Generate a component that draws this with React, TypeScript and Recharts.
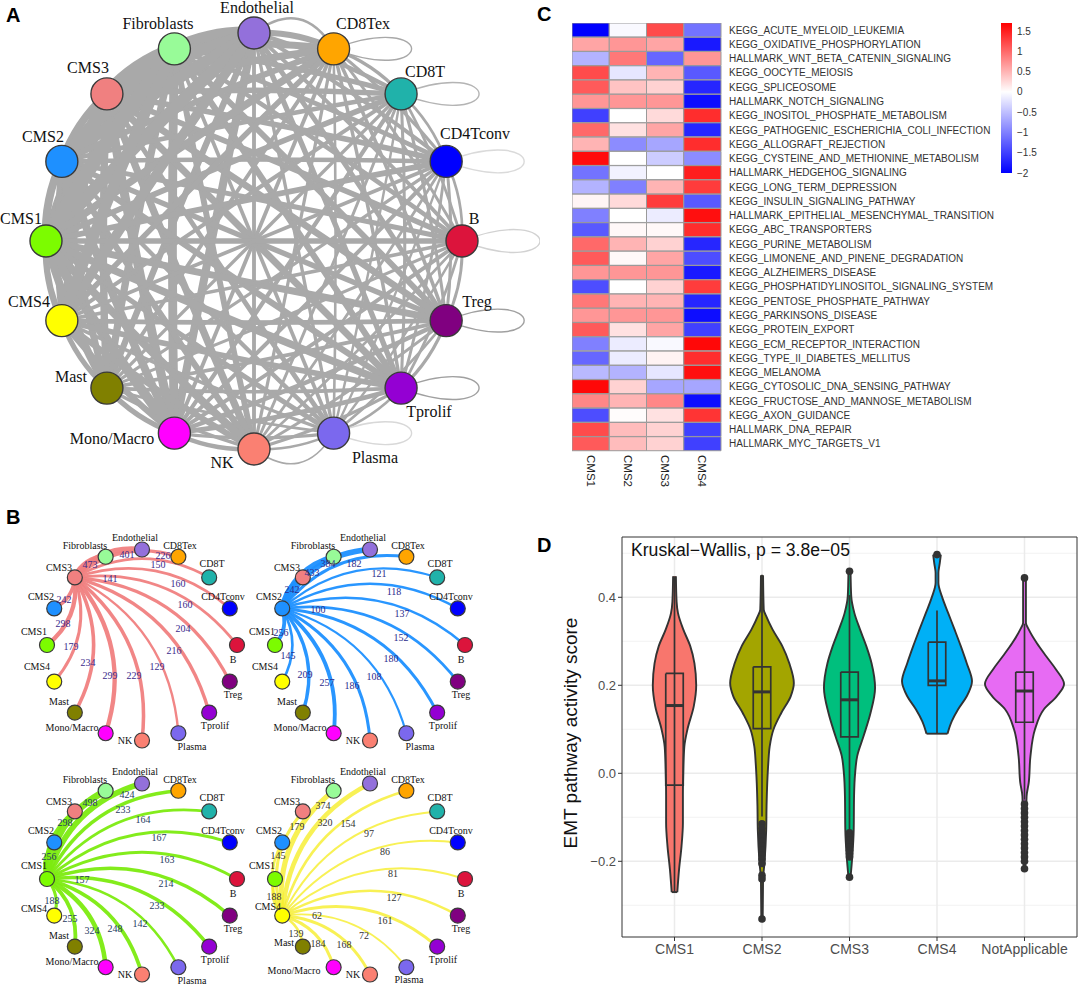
import React from 'react';
import {
  Area, Bar, BarChart, CartesianGrid, Cell, ComposedChart, ReferenceArea, Scatter, ScatterChart, XAxis, YAxis,
} from 'recharts';

// ---- cell types, clockwise from the top of the circle
const nodeNames = ['Endothelial', 'CD8Tex', 'CD8T', 'CD4Tconv', 'B', 'Treg', 'Tprolif', 'Plasma', 'NK', 'Mono/Macro', 'Mast', 'CMS4', 'CMS1', 'CMS2', 'CMS3', 'Fibroblasts'];
const nodeColors = ['#9370DB', '#FFA500', '#20B2AA', '#0000FF', '#DC143C', '#800080', '#9400D3', '#7B68EE', '#FA8072', '#FF00FF', '#808000', '#FFFF00', '#7CFC00', '#1E90FF', '#F08080', '#98FB98'];

// interaction counts per CMS, in nodeNames order (own index = self interaction)
const cms3Row = [401, 226, 150, 160, 160, 204, 216, 129, 229, 299, 234, 179, 298, 242, 141, 473];
const cms2Row = [384, 182, 121, 118, 137, 152, 180, 108, 186, 257, 209, 145, 256, 100, 242, 433];
const cms1Row = [424, 233, 164, 167, 163, 214, 233, 142, 248, 324, 255, 188, 157, 256, 298, 498];
const cms4Row = [320, 154, 97, 86, 81, 127, 161, 72, 168, 184, 139, 62, 188, 145, 179, 374];

// the rest of panel A, estimated from line widths (upper triangle)
const stromalOrder = [0, 1, 2, 3, 4, 5, 6, 7, 8, 9, 10, 15];
const stromalRows = [
  [180, 110, 95, 90, 130, 150, 70, 90, 260, 190, 430],
  [70, 60, 55, 80, 75, 40, 65, 90, 90, 210],
  [45, 48, 60, 58, 35, 55, 105, 72, 140],
  [42, 55, 50, 30, 48, 95, 65, 125],
  [52, 48, 34, 44, 92, 60, 115],
  [62, 38, 60, 115, 85, 170],
  [40, 68, 125, 82, 185],
  [32, 62, 44, 85],
  [110, 75, 175],
  [150, 290],
  [230],
];
const loopNodes = ['CD8Tex', 'CD8T', 'CD4Tconv', 'B', 'Treg', 'Tprolif', 'Plasma'];
const loopColors = ['#a8a8a8', '#b4b4b4', '#dadada', '#d2d2d2', '#a0a0a0', '#a0a0a0', '#d8d8d8'];

// ---- heatmap
const pathways = [
  'KEGG_ACUTE_MYELOID_LEUKEMIA', 'KEGG_OXIDATIVE_PHOSPHORYLATION', 'HALLMARK_WNT_BETA_CATENIN_SIGNALING', 'KEGG_OOCYTE_MEIOSIS', 'KEGG_SPLICEOSOME',
  'HALLMARK_NOTCH_SIGNALING', 'KEGG_INOSITOL_PHOSPHATE_METABOLISM', 'KEGG_PATHOGENIC_ESCHERICHIA_COLI_INFECTION', 'KEGG_ALLOGRAFT_REJECTION', 'KEGG_CYSTEINE_AND_METHIONINE_METABOLISM',
  'HALLMARK_HEDGEHOG_SIGNALING', 'KEGG_LONG_TERM_DEPRESSION', 'KEGG_INSULIN_SIGNALING_PATHWAY', 'HALLMARK_EPITHELIAL_MESENCHYMAL_TRANSITION', 'KEGG_ABC_TRANSPORTERS',
  'KEGG_PURINE_METABOLISM', 'KEGG_LIMONENE_AND_PINENE_DEGRADATION', 'KEGG_ALZHEIMERS_DISEASE', 'KEGG_PHOSPHATIDYLINOSITOL_SIGNALING_SYSTEM', 'KEGG_PENTOSE_PHOSPHATE_PATHWAY',
  'KEGG_PARKINSONS_DISEASE', 'KEGG_PROTEIN_EXPORT', 'KEGG_ECM_RECEPTOR_INTERACTION', 'KEGG_TYPE_II_DIABETES_MELLITUS', 'KEGG_MELANOMA',
  'KEGG_CYTOSOLIC_DNA_SENSING_PATHWAY', 'KEGG_FRUCTOSE_AND_MANNOSE_METABOLISM', 'KEGG_AXON_GUIDANCE', 'HALLMARK_DNA_REPAIR', 'HALLMARK_MYC_TARGETS_V1',
];
const heatColumns = ['CMS1', 'CMS2', 'CMS3', 'CMS4'];
const heatCms1 = [-2, 0.6, -0.6, 1.2, 1.1, 0.7, -1.5, 1.0, 0.5, 1.62, -1.1, -0.6, 0.07, -1.0, -1.3, 1.0, 1.1, 0.7, -1.4, 0.9, 0.7, 1.1, -1.0, -1.2, -0.55, 1.65, 0.8, -1.4, 1.2, 1.1];
const heatCms2 = [-0.05, 0.7, 0.9, -0.2, 0.4, 0.7, 0, 0.2, -0.9, 0, -0.1, -1.0, 0.25, 0, 0.05, 0.5, 0.05, 0.7, 0, 0.5, 0.7, 0.2, -0.15, -0.15, -0.6, 0.3, 0.5, 0.02, 0.45, 0.45];
const heatCms3 = [1.2, 0.6, -1.2, 0.5, 0.3, 0.7, 0.25, 0.6, -0.7, -0.4, 0, 0.5, 1.3, -0.15, 0.05, 0.3, 0.6, 0.7, 0.3, 0.5, 0.7, 0.6, -0.05, 0.08, -0.2, -0.7, 0.8, 0.2, 0.3, 0.3];
const heatCms4 = [-1.1, -1.8, 0.7, -1.3, -1.7, -1.9, 1.4, -1.7, 1.4, -0.9, 1.5, 1.3, -1.3, 1.6, 1.4, -1.7, -1.4, -1.8, 1.3, -1.7, -1.9, -1.5, 1.65, 1.4, 1.6, -0.7, -1.9, 1.35, -1.5, -1.5];
const colorbarTicks = [1.5, 1, 0.5, 0, -0.5, -1, -1.5, -2];

// ---- violins: score (descending) and half width
const violinCategories = ['CMS1', 'CMS2', 'CMS3', 'CMS4', 'NotApplicable'];
const violinColors = ['#F8766D', '#A3A500', '#00BF7D', '#00B0F6', '#E76BF3'];
const cms1Scores = [0.448, 0.39, 0.364, 0.327, 0.289, 0.25, 0.2, 0.152, 0.1, 0.06, 0, -0.05, -0.113, -0.166, -0.219, -0.27];
const cms1Widths = [4, 6, 10, 25, 45, 57, 62, 55, 37, 28, 25, 24, 24, 20, 13, 8];
const cms2Scores = [0.45, 0.372, 0.357, 0.327, 0.289, 0.25, 0.205, 0.175, 0.137, 0.1, 0.061, 0.023, -0.022, -0.075, -0.128, -0.204, -0.242, -0.331];
const cms2Widths = [3, 5, 12, 30, 58, 78, 91, 82, 55, 33, 22, 18, 15, 13, 12, 7, 3, 2];
const cms3Scores = [0.459, 0.402, 0.364, 0.327, 0.289, 0.25, 0.194, 0.137, 0.084, 0.039, 0, -0.052, -0.128, -0.189, -0.236];
const cms3Widths = [3, 5, 14, 30, 48, 63, 73, 60, 40, 22, 16, 13, 12, 8, 3];
const cms4Scores = [0.497, 0.478, 0.455, 0.433, 0.402, 0.364, 0.327, 0.289, 0.25, 0.209, 0.175, 0.145, 0.118, 0.09];
const cms4Widths = [11, 8, 4, 4, 14, 32, 50, 68, 85, 100, 85, 60, 42, 30];
const otherScores = [0.444, 0.342, 0.327, 0.296, 0.266, 0.236, 0.203, 0.175, 0.145, 0.1, 0.039, -0.022, -0.052, -0.217];
const otherWidths = [4, 4, 12, 35, 62, 90, 113, 92, 55, 30, 17, 12, 6, 2];

const whiskerHigh = [0.448, 0.451, 0.405, 0.37, 0.34];
const boxHigh = [0.227, 0.242, 0.23, 0.298, 0.23];
const boxMedian = [0.154, 0.185, 0.167, 0.21, 0.187];
const boxLow = [-0.027, 0.1015, 0.083, 0.2, 0.116];
const whiskerLow = [-0.27, -0.098, -0.128, 0.09, -0.06];
const cms1Outliers: number[] = [];
const cms2Outliers = [-0.115, -0.125, -0.135, -0.145, -0.155, -0.165, -0.175, -0.185, -0.195, -0.205, -0.232, -0.24, -0.331];
const cms3Outliers = [0.459, -0.135, -0.143, -0.151, -0.159, -0.167, -0.175, -0.183, -0.19, -0.236];
const cms4Outliers = [0.497];
const otherOutliers = [0.444, -0.07, -0.08, -0.09, -0.1, -0.11, -0.12, -0.13, -0.14, -0.15, -0.16, -0.17, -0.18, -0.19, -0.2, -0.217];

// ---- layout of the circle plots, px from the circle centre
const bigLabelOffsets = [[3, -234], [109, -218], [171, -170], [221, -108], [220, -23], [223, 60], [175, 170], [121, 216], [-32, 221], [-142, 197], [-183, 135], [-225, 60], [-233, -23], [-211, -105], [-166, -174], [-96, -218]];
const smallLabelOffsets = [[-7, -108], [38, -100], [70, -82], [81, -49], [91, 14], [91, 49], [73, 80], [50, 101], [-17, 95], [-70, 82], [-83, 56], [-105, 21], [-108, -14], [-101, -49], [-83, -78], [-57, -100]];

const smallPanels = [
  { cx: 142, cy: 645, source: 14, row: cms3Row, color: '#F08080', opacity: 0.95, text: '#3b2a8c', tweak: {} as any,
    at: [[127, 554], [163, 555], [158, 564], [178, 583], [185, 604], [183, 628], [174, 650], [157, 666], [134, 675], [110, 675], [88, 662], [71, 646], [63, 623], [64, 599], [110, 578], [90, 564]] },
  { cx: 370, cy: 645, source: 13, row: cms2Row, color: '#1E90FF', opacity: 0.95, text: '#2a2a8c', tweak: {} as any,
    at: [[328, 563], [354, 563], [379, 573], [394, 591], [402, 613], [401, 637], [391, 658], [374, 676], [352, 685], [327, 682], [305, 674], [288, 655], [281, 632], [318, 609], [292, 589], [312, 572]] },
  { cx: 142, cy: 878.5, source: 12, row: cms1Row, color: '#7CEB10', opacity: 0.95, text: '#1f3a5f', tweak: { 11: [-3, 8] } as any,
    at: [[127, 794], [123, 809], [143, 819], [159, 837], [167, 859], [166, 883], [157, 905], [140, 923], [115, 928], [92, 930], [70, 918], [52, 900], [82, 879], [49, 856], [65, 822], [90, 802]] },
  { cx: 370, cy: 878.5, source: 11, row: cms4Row, color: '#F6EE2A', opacity: 0.8, text: '#333333', tweak: { 7: [-11, -1], 9: [-6, 9], 10: [-3, 7], 11: [3, 6] } as any,
    at: [[325, 822], [348, 823], [369, 833], [385, 851], [393, 873], [394, 897], [385, 920], [364, 935], [344, 944], [318, 943], [296, 933], [317, 915], [274, 896], [278, 855], [297, 826], [323, 805]] },
];

const SERIF = '"Liberation Serif", "Times New Roman", serif';
const SANS = '"Liberation Sans", Arial, sans-serif';

const circlePoint = (i: number) => {
  const a = (i / 16) * 2 * Math.PI;
  return { x: Math.sin(a), y: -Math.cos(a) };
};

// draws what the scatter hands over: 3 points = quadratic, 4 points = cubic
const bezierLine = (stroke: string, width: number, opacity = 1) => (props: any) => {
  const p = props.points;
  const d = p.length === 3
    ? `M${p[0].x},${p[0].y}Q${p[1].x},${p[1].y} ${p[2].x},${p[2].y}`
    : `M${p[0].x},${p[0].y}C${p[1].x},${p[1].y} ${p[2].x},${p[2].y} ${p[3].x},${p[3].y}`;
  return <path d={d} fill="none" stroke={stroke} strokeWidth={width} strokeOpacity={opacity} />;
};
const noMark = () => <g />;

const nodeShape = (r: number) => (props: any) => (
  <circle cx={props.cx} cy={props.cy} r={r} fill={props.payload.fill} stroke="#3a3a3a" strokeWidth={r > 10 ? 1.4 : 1.2} />
);
const textShape = (size: number, color: string) => (props: any) => (
  <text x={props.cx} y={props.cy} fontSize={size} fontFamily={SERIF} fill={color} textAnchor="middle" dominantBaseline="central">{props.payload.label}</text>
);

type Edge = { points: { x: number; y: number }[]; color: string; width: number; opacity?: number };

function CircleChart({ left, top, width, height, domainX, domainY, edges, labels, values, radius, fontSize, valueColor }: any) {
  const nodes = nodeNames.map((name, i) => ({ ...circlePoint(i), name, fill: nodeColors[i] }));
  return (
    <div style={{ position: 'absolute', left, top }}>
      <ScatterChart width={width} height={height} margin={{ top: 0, right: 0, bottom: 0, left: 0 }}>
        <XAxis type="number" dataKey="x" hide domain={domainX} allowDataOverflow />
        <YAxis type="number" dataKey="y" hide reversed domain={domainY} allowDataOverflow />
        {edges.map((e: Edge, i: number) => (
          <Scatter key={`edge-${i}`} data={e.points} shape={noMark} line={bezierLine(e.color, e.width, e.opacity ?? 1)} isAnimationActive={false} />
        ))}
        <Scatter data={nodes} shape={nodeShape(radius)} isAnimationActive={false} />
        <Scatter data={labels} shape={textShape(fontSize, '#111')} isAnimationActive={false} />
        {values && <Scatter data={values} shape={textShape(fontSize, valueColor)} isAnimationActive={false} />}
      </ScatterChart>
    </div>
  );
}

// panel A ------------------------------------------------------------
const BIG_R = 208;
const outwardEdge = (a: number, b: number, k: number) => {
  const p = circlePoint(a);
  const q = circlePoint(b);
  const mx = (p.x + q.x) / 2;
  const my = (p.y + q.y) / 2;
  return [p, { x: mx * (1 + k), y: my * (1 + k) }, q];
};
const allLinks: [number, number, number][] = [];
stromalRows.forEach((row, r) => row.forEach((w, c) => allLinks.push([stromalOrder[r], stromalOrder[r + c + 1], w])));
[[14, cms3Row], [13, cms2Row], [12, cms1Row], [11, cms4Row]].forEach(([src, row]: any, k) => {
  row.forEach((w: number, i: number) => {
    if (i === src) return;
    if ([14, 13, 12, 11].slice(0, k).includes(i)) return;
    allLinks.push([src, i, w]);
  });
});
const bigEdges: Edge[] = allLinks.map(([a, b, w]) => ({ points: outwardEdge(a, b, 0.05), color: '#A9A9A9', width: 1.6 + w / 40 }));
bigEdges.push({ points: outwardEdge(0, 1, 0.22), color: '#A9A9A9', width: 2.6 });
bigEdges.push({ points: outwardEdge(8, 7, 0.22), color: '#A9A9A9', width: 1.6 });
loopNodes.forEach((name, i) => {
  const n = circlePoint(nodeNames.indexOf(name));
  bigEdges.push({
    points: [n, { x: n.x + 0.5, y: n.y - 0.19 }, { x: n.x + 0.5, y: n.y + 0.19 }, n],
    color: loopColors[i],
    width: 1.4,
  });
});
const bigLabels = nodeNames.map((label, i) => ({ x: bigLabelOffsets[i][0] / BIG_R, y: bigLabelOffsets[i][1] / BIG_R, label }));

// panel B ------------------------------------------------------------
const smallRx = 95;
const smallRy = 95.5;
const smallHalf = 130;
const CURVE = 0.28;
const smallEdges = (source: number, row: number[], color: string, opacity: number): Edge[] => {
  const s = circlePoint(source);
  const edges: Edge[] = [];
  row.forEach((w, i) => {
    if (i === source) return;
    const t = circlePoint(i);
    const dx = t.x - s.x;
    const dy = t.y - s.y;
    edges.push({
      points: [s, { x: (s.x + t.x) / 2 + dy * CURVE, y: (s.y + t.y) / 2 - dx * CURVE }, t],
      color,
      width: 1 + w / 90,
      opacity,
    });
  });
  return edges;
};

// panel C ------------------------------------------------------------
const heatColor = (v: number) => {
  const t = Math.min(1, Math.abs(v) / (v >= 0 ? 1.7 : 2));
  const c = Math.round(255 * (1 - t));
  return v >= 0 ? `rgb(255,${c},${c})` : `rgb(${c},${c},255)`;
};
const heatRows = pathways.map((name) => ({ name }));
const heatValues = [heatCms1, heatCms2, heatCms3, heatCms4];
const HeatTick = (props: any) => (
  <text x={props.x} y={props.y - 4} transform={`rotate(90 ${props.x} ${props.y - 4})`} fontSize={11.5} fontFamily={SANS} fill="#222" dominantBaseline="central">
    {heatColumns[Math.floor(props.payload.value)]}
  </text>
);

function Heatmap() {
  return (
    <div style={{ position: 'absolute', left: 572, top: 23 }}>
      <BarChart layout="vertical" width={430} height={468} data={heatRows} barCategoryGap={0} margin={{ top: 0, right: 0, bottom: 0, left: 0 }}>
        <XAxis type="number" domain={[0, 4]} ticks={[0.5, 1.5, 2.5, 3.5]} height={40} axisLine={false} tickLine={false} tick={HeatTick} interval={0} />
        <YAxis type="category" dataKey="name" orientation="right" width={281} interval={0} axisLine={false} tickLine={false} tickSize={0} tickMargin={8} tick={{ fontSize: 10, fontFamily: SANS, fill: '#333', textAnchor: 'start' }} />
        {heatValues.map((vals, c) => (
          <Bar key={heatColumns[c]} dataKey={() => 1} stackId="heat" stroke="#9a9a9a" strokeWidth={1} isAnimationActive={false}>
            {vals.map((v, i) => <Cell key={pathways[i]} fill={heatColor(v)} />)}
          </Bar>
        ))}
      </BarChart>
    </div>
  );
}

function Colorbar() {
  return (
    <div style={{ position: 'absolute', left: 1001, top: 23 }}>
      <BarChart width={50} height={162} data={[{ name: 'scale', range: [-2, 1.7] }]} barCategoryGap={0} margin={{ top: 0, right: 0, bottom: 12, left: 0 }}>
        <defs>
          <linearGradient id="heatScale" x1="0" y1="0" x2="0" y2="1">
            <stop offset="0" stopColor="#FF0000" />
            <stop offset="0.459" stopColor="#FFFFFF" />
            <stop offset="1" stopColor="#0000FF" />
          </linearGradient>
        </defs>
        <XAxis dataKey="name" hide />
        <YAxis type="number" orientation="right" domain={[-2, 1.7]} ticks={colorbarTicks} interval={0} width={39} axisLine={false} tickLine={false} tickSize={0} tickMargin={5}
          tickFormatter={(v: number) => String(v).replace('-', '\u2212')} tick={{ fontSize: 10, fontFamily: SANS, fill: '#333', textAnchor: 'start' }} />
        <Bar dataKey="range" fill="url(#heatScale)" isAnimationActive={false} />
      </BarChart>
    </div>
  );
}

// panel D ------------------------------------------------------------
const WIDTH_UNIT = 250;
const violinSets = [
  { scores: cms1Scores, widths: cms1Widths, outliers: cms1Outliers },
  { scores: cms2Scores, widths: cms2Widths, outliers: cms2Outliers },
  { scores: cms3Scores, widths: cms3Widths, outliers: cms3Outliers },
  { scores: cms4Scores, widths: cms4Widths, outliers: cms4Outliers },
  { scores: otherScores, widths: otherWidths, outliers: otherOutliers },
];
const segment = (stroke: string, width: number) => (props: any) => (
  <path d={props.points.map((p: any, i: number) => `${i ? 'L' : 'M'}${p.x},${p.y}`).join('')} fill="none" stroke={stroke} strokeWidth={width} />
);
const dot = (props: any) => <circle cx={props.cx} cy={props.cy} r={3.8} fill="#333" />;
const DARK = '#333333';
const BOX = 0.1;
const yAxisTitle = () => (
  <text x={30} y={203} transform="rotate(-90 30 203)" fontSize={19} fontFamily={SANS} fill="#111" textAnchor="middle" dominantBaseline="central">EMT pathway activity score</text>
);

function ViolinPanel() {
  return (
    <div style={{ position: 'absolute', left: 540, top: 530 }}>
      <ComposedChart layout="vertical" width={539} height={456} margin={{ top: 7, right: 2, bottom: 0, left: 0 }}>
        <CartesianGrid horizontalValues={[-0.3, -0.1, 0.1, 0.3, 0.5]} vertical={false} stroke="#EFEFEF" strokeWidth={0.8} />
        <CartesianGrid horizontalValues={[-0.2, 0, 0.2, 0.4]} verticalValues={[1, 2, 3, 4, 5]} stroke="#EBEBEB" strokeWidth={1.5} />
        <XAxis type="number" dataKey="x" domain={[0.4, 5.6]} ticks={[1, 2, 3, 4, 5]} interval={0} allowDataOverflow height={49} axisLine={false} tickLine={{ stroke: DARK }} tickSize={4} tickMargin={3}
          tickFormatter={(v: number) => violinCategories[v - 1]} tick={{ fontSize: 14, fontFamily: SANS, fill: '#4D4D4D' }} />
        <YAxis type="number" dataKey="score" reversed domain={[-0.372, 0.537]} ticks={[-0.2, 0, 0.2, 0.4]} interval={0} allowDataOverflow width={82} axisLine={false} tickLine={{ stroke: DARK }} tickSize={4} tickMargin={2}
          tickFormatter={(v: number) => (v < 0 ? `\u2212${Math.abs(v).toFixed(1)}` : v.toFixed(1))} tick={{ fontSize: 13, fontFamily: SANS, fill: '#4D4D4D' }}
          label={{ content: yAxisTitle }} />
        {violinSets.map((v, c) => (
          <Area key={violinCategories[c]} data={v.scores.map((score, i) => ({ score, half: v.widths[i] / WIDTH_UNIT }))}
            dataKey={(d: any) => [c + 1 - d.half, c + 1 + d.half]} type="monotone" fill={violinColors[c]} fillOpacity={1} stroke={DARK} strokeWidth={1.9} dot={false} activeDot={false} isAnimationActive={false} />
        ))}
        {violinSets.map((v, c) => {
          const n = v.scores.length - 1;
          return (
            <Scatter key={`foot-${c}`} data={[{ x: c + 1 - v.widths[n] / WIDTH_UNIT, score: v.scores[n] }, { x: c + 1 + v.widths[n] / WIDTH_UNIT, score: v.scores[n] }]} shape={noMark} line={segment(DARK, 1.9)} isAnimationActive={false} />
          );
        })}
        {violinCategories.map((name, c) => (
          <Scatter key={`whisker-${name}`} data={[{ x: c + 1, score: whiskerHigh[c] }, { x: c + 1, score: whiskerLow[c] }]} shape={noMark} line={segment(DARK, 1.7)} isAnimationActive={false} />
        ))}
        {violinCategories.map((name, c) => (
          <Scatter key={`box-line-${name}`} data={[
            { x: c + 1 - BOX, score: boxHigh[c] }, { x: c + 1 + BOX, score: boxHigh[c] }, { x: c + 1 + BOX, score: boxLow[c] }, { x: c + 1 - BOX, score: boxLow[c] }, { x: c + 1 - BOX, score: boxHigh[c] },
          ]} shape={noMark} line={segment(DARK, 1.7)} isAnimationActive={false} />
        ))}
        {violinCategories.map((name, c) => (
          <Scatter key={`median-${name}`} data={[{ x: c + 1 - BOX, score: boxMedian[c] }, { x: c + 1 + BOX, score: boxMedian[c] }]} shape={noMark} line={segment(DARK, 3)} isAnimationActive={false} />
        ))}
        {violinSets.map((v, c) => (
          <Scatter key={`out-${c}`} data={v.outliers.map((score) => ({ x: c + 1, score }))} shape={dot} isAnimationActive={false} />
        ))}
        <ReferenceArea x1={0.4} x2={5.6} y1={-0.372} y2={0.537} fill="none" stroke={DARK} strokeWidth={1} ifOverflow="visible" />
      </ComposedChart>
    </div>
  );
}

const panelLetter = (letter: string, left: number, top: number) => (
  <div key={letter} style={{ position: 'absolute', left, top, font: `bold 20px ${SANS}`, color: '#000' }}>{letter}</div>
);

export default function App() {
  return (
    <div style={{ position: 'absolute', left: 0, top: 0, width: 1079, height: 986, overflow: 'hidden', background: '#fff' }}>
      {panelLetter('A', 6, 4)}
      {panelLetter('B', 6, 506)}
      {panelLetter('C', 537, 3)}
      {panelLetter('D', 537, 534)}

      <CircleChart left={0} top={0} width={540} height={490} radius={16} fontSize={16}
        domainX={[-254 / BIG_R, 286 / BIG_R]} domainY={[-241 / BIG_R, 249 / BIG_R]}
        edges={bigEdges} labels={bigLabels} />

      {smallPanels.map((p) => (
        <CircleChart key={p.source} left={p.cx - smallHalf} top={p.cy - smallHalf} width={smallHalf * 2} height={smallHalf * 2} radius={7.5} fontSize={10}
          domainX={[-smallHalf / smallRx, smallHalf / smallRx]} domainY={[-smallHalf / smallRy, smallHalf / smallRy]}
          edges={smallEdges(p.source, p.row, p.color, p.opacity)}
          labels={nodeNames.map((label, i) => {
            const [dx, dy] = p.tweak[i] ?? [0, 0];
            return { x: (smallLabelOffsets[i][0] + dx) / smallRx, y: (smallLabelOffsets[i][1] + dy) / smallRy, label };
          })}
          values={p.row.map((v, i) => ({ x: (p.at[i][0] - p.cx) / smallRx, y: (p.at[i][1] - p.cy) / smallRy, label: String(v) }))}
          valueColor={p.text} />
      ))}

      <Heatmap />
      <Colorbar />

      <ViolinPanel />
      <div style={{ position: 'absolute', left: 631, top: 540, font: `17.6px ${SANS}`, color: '#111', whiteSpace: 'nowrap' }}>Kruskal{'\u2212'}Wallis, p = 3.8e{'\u2212'}05</div>
    </div>
  );
}
